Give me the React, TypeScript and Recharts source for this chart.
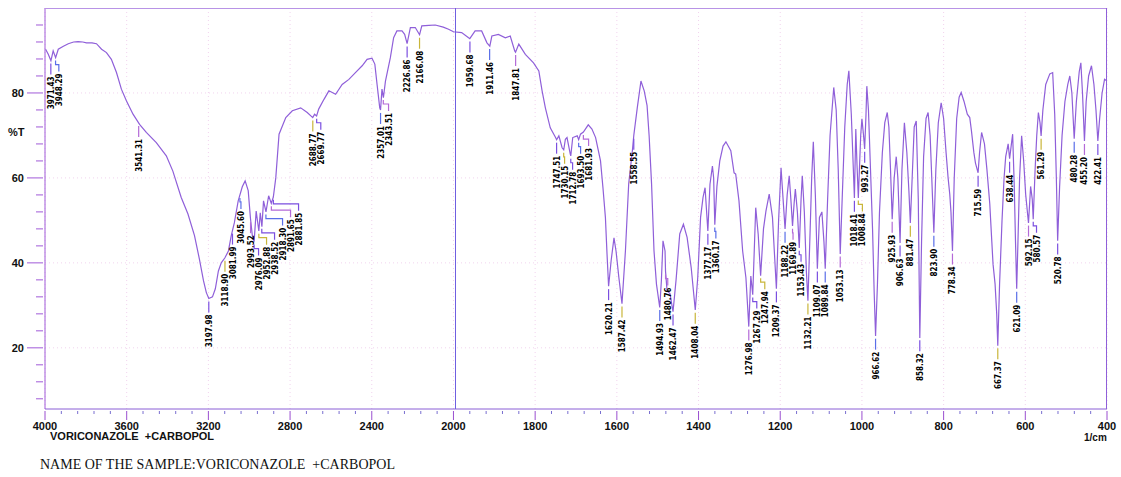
import React from 'react';
import { ComposedChart, Line, Scatter, XAxis, YAxis, CartesianGrid } from 'recharts';

// Spectrum segments: [wavenumber (1/cm), transmittance (%T)]
const segOH: [number, number][] = [
  [3997, 90.3], [3984, 89.1], [3971, 87.6], [3960, 89.9], [3948, 88.3], [3935, 90.3], [3910, 91.0], [3886, 91.6],
  [3860, 92.0], [3838, 92.1], [3815, 92.0], [3797, 91.8], [3770, 91.8], [3748, 91.6], [3723, 90.3], [3699, 89.5],
  [3675, 87.9], [3650, 84.8], [3626, 80.9], [3601, 78.1], [3569, 75.0], [3537, 72.6], [3504, 70.7], [3455, 68.3],
  [3406, 65.2], [3374, 61.6], [3333, 55.4], [3300, 51.5], [3268, 46.4], [3244, 40.9], [3224, 35.8], [3210, 33.0],
  [3198, 31.6], [3180, 32.0], [3166, 33.9], [3151, 38.1], [3137, 40.0], [3119, 41.2], [3102, 42.8], [3088, 46.4],
  [3073, 49.4], [3054, 54.6], [3034, 57.9], [3020, 59.3], [3005, 57.0], [2994, 50.5], [2985, 46.5], [2976, 45.0],
  [2966, 52.2], [2953, 47.5], [2946, 51.8], [2938, 48.5], [2930, 54.6], [2918, 52.0], [2905, 55.8], [2892, 54.0],
  [2882, 55.5], [2870, 60.0], [2854, 70.3], [2821, 74.2], [2789, 75.8], [2748, 76.5], [2716, 75.4], [2689, 74.2],
  [2680, 75.0], [2670, 74.6], [2660, 76.2], [2634, 78.5], [2610, 80.5], [2577, 79.7], [2545, 82.0], [2512, 83.2],
  [2480, 84.8], [2447, 86.4], [2423, 87.9], [2399, 88.2], [2385, 86.8], [2374, 82.0], [2361, 76.5], [2357, 76.0],
  [2350, 80.9], [2343, 78.9], [2333, 82.8], [2309, 88.3], [2293, 93.0], [2277, 94.6], [2252, 94.6], [2239, 93.8],
  [2227, 91.6], [2211, 95.4], [2187, 95.4], [2166, 93.7], [2155, 95.8], [2120, 95.9], [2089, 96.0], [2050, 95.5],
  [2024, 95.0], [2000, 94.4],
];
const segMid: [number, number][] = [
  [1980, 94.2], [1963, 93.0], [1960, 92.8], [1947, 94.6], [1931, 94.6], [1918, 91.8], [1911, 91.0], [1906, 93.4],
  [1890, 93.8], [1873, 93.0], [1861, 93.4], [1850, 89.9], [1848, 89.6], [1840, 91.5], [1824, 89.1], [1804, 87.1],
  [1791, 85.2], [1783, 80.5], [1775, 76.5], [1763, 71.8], [1750, 69.5], [1747.5, 69.0], [1742, 69.9], [1734, 67.1],
  [1730, 66.6], [1726, 69.1], [1722, 69.5], [1714, 65.6], [1712.8, 65.2], [1708, 69.5], [1697, 69.9], [1693.5, 69.0],
  [1689, 70.3], [1681.9, 70.8], [1670, 72.5], [1661, 71.5], [1652, 69.5], [1640, 64.0], [1634, 57.7], [1628, 50.7],
  [1624, 42.0], [1620.2, 34.5], [1614, 40.5], [1607, 45.9], [1602, 42.8], [1595, 36.5], [1587.4, 30.4], [1579, 42.8],
  [1571, 58.6], [1562, 66.4], [1558.5, 70.0], [1550, 76.5], [1541, 82.8], [1533, 80.5], [1526, 77.0], [1521, 70.0],
  [1515, 58.6], [1509, 42.8], [1503, 35.0], [1495, 29.5], [1491, 35.8], [1487, 45.2], [1482, 42.8], [1480.8, 38.0],
  [1477, 33.4], [1470, 32.8], [1462.5, 28.5], [1455, 36.0], [1446, 46.8], [1437, 49.1], [1428, 46.0], [1418, 38.9],
  [1408, 28.9], [1402, 36.5], [1395, 50.7], [1389, 55.4], [1384, 57.7], [1377.2, 47.5], [1372, 58.5], [1366, 62.8],
  [1363, 60.0], [1360.2, 49.0], [1355, 58.0], [1348, 64.0], [1340, 67.5], [1333, 68.5], [1321, 66.4], [1313, 61.2],
  [1309, 60.9], [1301, 54.6], [1292, 42.8], [1284, 36.5], [1280, 30.0], [1277, 25.0], [1272, 36.9], [1267.3, 32.5],
  [1260, 53.0], [1254, 46.8], [1248, 37.0], [1241, 48.0], [1235, 52.2], [1227, 56.2], [1219, 50.7], [1209.4, 33.9],
];
const segFinger: [number, number][] = [
  [1204, 50.0], [1198, 62.4], [1193, 55.0], [1188.2, 48.0], [1183, 56.0], [1178, 60.5], [1174, 55.0], [1169.9, 48.7],
  [1166, 54.0], [1163, 57.4], [1158, 52.0], [1153.4, 43.5], [1149, 55.0], [1146, 60.5], [1141, 52.0], [1136, 38.0],
  [1132.2, 31.1], [1127, 47.0], [1123, 60.0], [1119, 68.5], [1114, 56.0], [1109.1, 38.6], [1104, 50.7], [1098, 52.0],
  [1093, 45.0], [1089.8, 38.6], [1084, 55.0], [1078, 70.0], [1069, 81.3], [1063, 76.0], [1058, 62.0], [1053.1, 42.1],
  [1048, 56.0], [1042, 72.0], [1036, 82.0], [1032, 85.2], [1026, 75.0], [1018.4, 55.3], [1015, 71.5], [1012, 63.0],
  [1008.8, 55.3], [1003, 70.0], [1000, 73.9], [996, 70.0], [993.3, 66.8], [990, 75.0], [988, 81.6], [984, 76.0],
  [979, 62.0], [974, 48.0], [970, 33.0], [966.6, 22.8], [962, 35.0], [957, 52.0], [950, 66.0], [944, 73.0],
  [938, 75.4], [934, 72.0], [930, 62.0], [925.9, 50.3], [921, 60.0], [916, 65.0], [912, 60.0], [906.6, 44.7],
  [902, 62.0], [896, 73.0], [890, 66.0], [885, 57.0], [881.5, 49.4], [877, 60.0], [872, 72.0], [867, 73.4],
  [862, 55.0], [858.3, 22.3], [854, 45.0], [849, 65.0], [843, 74.0], [838, 75.4], [833, 70.0], [829, 60.0],
  [823.9, 47.1], [819, 62.0], [813, 73.0], [806, 77.7], [800, 74.0], [794, 66.0], [789, 60.0], [785, 56.2],
  [782, 52.0], [778.3, 42.8], [774, 60.0], [768, 74.0], [762, 79.0], [757, 80.1], [750, 78.0], [742, 75.0],
  [736, 74.2], [732, 71.2], [726, 66.0], [722, 63.5], [715.6, 61.2], [712, 66.0], [707, 70.7], [700, 68.0],
  [694, 62.0], [687, 53.9], [682, 45.0], [679, 39.7], [674, 35.0], [670, 28.0], [667.4, 20.5], [663, 35.0],
  [657, 50.0], [652, 60.0], [648, 65.0], [642, 68.0], [638.4, 64.5], [634, 68.0], [631, 70.3], [627, 58.0],
  [624, 45.0], [621.1, 33.9], [618, 45.0], [614, 60.0], [609, 69.9], [604, 64.0], [599, 56.0], [592.2, 49.4],
  [587, 58.0], [583, 55.0], [580.6, 50.3], [576, 62.0], [572, 70.0], [568, 75.4], [564, 73.0], [561.3, 69.9],
  [557, 76.0], [550, 82.0], [540, 84.5], [533, 84.8], [528, 75.0], [524, 60.0], [520.8, 45.2], [516, 58.0],
  [510, 70.0], [503, 78.0], [496, 82.0], [491, 84.0], [486, 80.0], [480.3, 69.2], [475, 78.0], [468, 85.0],
  [464, 87.1], [460, 80.0], [455.2, 68.7], [451, 78.0], [445, 84.0], [438, 86.4], [432, 82.0], [427, 76.0],
  [422.4, 68.7], [418, 74.0], [412, 80.0], [406, 83.2], [400, 82.8],
];

// Peak picks (wavenumber and printed label)
const peakWn = [
  3971.43, 3948.29, 3541.31, 3197.98, 3118.9, 3081.99, 3045.6, 2993.52, 2976.09, 2952.88, 2938.52, 2918.3, 2891.65, 2881.85,
  2688.77, 2669.77, 2357.01, 2343.51, 2226.86, 2166.08, 1959.68, 1911.46, 1847.81, 1747.51, 1730.15, 1712.78, 1693.5, 1681.93,
  1620.21, 1587.42, 1558.55, 1494.93, 1480.76, 1462.47, 1408.04, 1377.17, 1360.17, 1276.98, 1267.29, 1247.94, 1209.37,
  1188.22, 1169.89, 1153.43, 1132.21, 1109.07, 1089.84, 1053.13, 1018.41, 1008.84, 993.27, 966.62, 925.93, 906.63, 881.47,
  858.32, 823.9, 778.34, 715.59, 667.37, 638.44, 621.09, 592.15, 580.57, 561.29, 520.78, 480.28, 455.2, 422.41,
];
const peakText = [
  '3971.43', '3948.29', '3541.31', '3197.98', '3118.90', '3081.99', '3045.60', '2993.52', '2976.09', '2952.88', '2938.52',
  '2918.30', '2891.65', '2881.85', '2688.77', '2669.77', '2357.01', '2343.51', '2226.86', '2166.08', '1959.68', '1911.46',
  '1847.81', '1747.51', '1730.15', '1712.78', '1693.50', '1681.93', '1620.21', '1587.42', '1558.55', '1494.93', '1480.76',
  '1462.47', '1408.04', '1377.17', '1360.17', '1276.98', '1267.29', '1247.94', '1209.37', '1188.22', '1169.89', '1153.43',
  '1132.21', '1109.07', '1089.84', '1053.13', '1018.41', '1008.84', '993.27', '966.62', '925.93', '906.63', '881.47',
  '858.32', '823.90', '778.34', '715.59', '667.37', '638.44', '621.09', '592.15', '580.57', '561.29', '520.78', '480.28',
  '455.20', '422.41',
];

const xTickLabels = [4000, 3600, 3200, 2800, 2400, 2000, 1800, 1600, 1400, 1200, 1000, 800, 600, 400];
const yTickLabels = [20, 40, 60, 80];

const spectrum = [...segOH, ...segMid, ...segFinger];

// axis break: 4000-2000 compressed 2:1 relative to 2000-400
const U_MAX = 2600;
const Y_MIN = 5.6;
const Y_MAX = 100;
const toU = (wn: number) => (wn >= 2000 ? (4000 - wn) / 2 : 1000 + (2000 - wn));
const fromU = (v: number) => (v <= 1000 ? 4000 - 2 * v : 2000 - (v - 1000));

const chartData = spectrum.map(([w, t]) => ({ u: toU(w), t }));

const interpT = (wn: number) => {
  for (let i = 0; i < spectrum.length - 1; i++) {
    const [a, ta] = spectrum[i];
    const [b, tb] = spectrum[i + 1];
    if (wn <= a && wn >= b) {
      const f = (a - wn) / (a - b || 1);
      return ta + f * (tb - ta);
    }
  }
  return spectrum[spectrum.length - 1][1];
};

// chart geometry
const W = 1121;
const H = 477;
const MARGIN = { top: 8, right: 14, bottom: 38, left: 0 };
const Y_AXIS_W = 45;
const X_AXIS_H = 30;
const PLOT_W = W - MARGIN.left - MARGIN.right - Y_AXIS_W;
const PLOT_H = H - MARGIN.top - MARGIN.bottom - X_AXIS_H;
const PX_PER_U = PLOT_W / U_MAX;
const PX_PER_T = PLOT_H / (Y_MAX - Y_MIN);

// place peak labels: push a label right only if it collides with an earlier one that spans the same heights
const LABEL_GAP = 8;
const LABEL_LEN = 36;
const placed: { x: number; y0: number; y1: number }[] = [];
const peakData = peakWn.map((w, i) => {
  const u = toU(w);
  const t = interpT(w);
  const px = u * PX_PER_U;
  const py = (Y_MAX - t) * PX_PER_T;
  const y0 = py + 14;
  const y1 = y0 + LABEL_LEN;
  let x = px;
  placed.forEach((p) => {
    if (p.y1 > y0 && p.y0 < y1 && x < p.x + LABEL_GAP) x = p.x + LABEL_GAP;
  });
  placed.push({ x, y0, y1 });
  return { u, t, label: peakText[i], shiftPx: x - px };
});

const majorU = xTickLabels.map(toU);
const xTicks: number[] = [];
for (let v = 0; v <= U_MAX; v += 40) xTicks.push(v);
const yTicks: number[] = [];
for (let v = 8; v <= 96; v += 4) yTicks.push(v);

const PURPLE = '#8f5fd9';
const FONT = '"Liberation Sans", Arial, sans-serif';
const LEADER_COLORS = ['#7b4fe0', '#5a6ee8', '#b46ad8', '#7b4fe0', '#c9b63a'];

const XTick = (props: any) => {
  const { x, y, payload } = props;
  const v = payload.value;
  const major = majorU.some((m) => Math.abs(m - v) < 0.01);
  return (
    <g>
      <line x1={x} x2={x} y1={y} y2={y + (major ? 9 : 3)} stroke={major ? '#9a4fd0' : '#7a6fd0'} strokeWidth={1} />
      {major && (
        <text x={x} y={y + 19} textAnchor="middle" fontFamily={FONT} fontWeight="bold" fontSize={11} fill="#111">
          {Math.round(fromU(v))}
        </text>
      )}
    </g>
  );
};

const YTick = (props: any) => {
  const { x, y, payload } = props;
  const v = payload.value;
  const major = yTickLabels.includes(v);
  return (
    <g>
      <line x1={x - (major ? 16 : 7)} x2={x} y1={y} y2={y} stroke="#a05ad8" strokeWidth={1} />
      {major && (
        <text x={x - 19} y={y + 4} textAnchor="end" fontFamily={FONT} fontWeight="bold" fontSize={11} fill="#111">
          {v}
        </text>
      )}
    </g>
  );
};

const PeakMark = (props: any) => {
  const { cx, cy, payload, index } = props;
  if (cx == null || cy == null) return null;
  const color = LEADER_COLORS[(index ?? 0) % LEADER_COLORS.length];
  const lx = cx + (payload.shiftPx || 0);
  const pts =
    Math.abs(lx - cx) < 0.5
      ? `${cx},${cy + 3} ${cx},${cy + 14}`
      : `${cx},${cy + 3} ${cx},${cy + 7} ${lx},${cy + 7} ${lx},${cy + 14}`;
  return (
    <g>
      <polyline points={pts} fill="none" stroke={color} strokeWidth={1.2} />
      <text
        transform={`translate(${lx + 3},${cy + 16}) rotate(-90)`}
        textAnchor="end"
        fontFamily='"DejaVu Sans Condensed", "Liberation Sans Narrow", sans-serif'
        fontWeight="bold"
        fontSize={8}
        fill="#000"
      >
        {payload.label}
      </text>
    </g>
  );
};

export default function App() {
  return (
    <div style={{ position: 'absolute', left: 0, top: 0, width: W, height: H, background: '#fff' }}>
      <ComposedChart width={W} height={H} data={chartData} margin={MARGIN}>
        <CartesianGrid
          stroke="#f1d3ee"
          strokeDasharray="1 3"
          horizontalValues={yTickLabels}
          verticalValues={majorU}
        />
        <XAxis
          type="number"
          dataKey="u"
          domain={[0, U_MAX]}
          ticks={xTicks}
          interval={0}
          tick={<XTick />}
          tickLine={false}
          tickSize={0}
          height={X_AXIS_H}
          stroke="#8a5fd6"
          allowDataOverflow
        />
        <YAxis
          type="number"
          domain={[Y_MIN, Y_MAX]}
          ticks={yTicks}
          interval={0}
          tick={<YTick />}
          tickLine={false}
          tickSize={0}
          width={Y_AXIS_W}
          stroke="#a05ad8"
          allowDataOverflow
        />
        <Line
          type="linear"
          dataKey="t"
          stroke={PURPLE}
          strokeWidth={1.2}
          dot={false}
          isAnimationActive={false}
        />
        <Scatter data={peakData} dataKey="t" shape={<PeakMark />} isAnimationActive={false} />
      </ComposedChart>
      {/* frame lines */}
      <div style={{ position: 'absolute', left: 45, top: 8, width: 1062, height: 0, borderTop: '1px solid #b893e6' }} />
      <div style={{ position: 'absolute', left: 1106, top: 8, width: 0, height: 401, borderLeft: '1px solid #8f5fd9' }} />
      <div style={{ position: 'absolute', left: 455, top: 8, width: 0, height: 401, borderLeft: '1px solid #6f5fe0' }} />
      <div style={{ position: 'absolute', left: 8, top: 126, fontFamily: FONT, fontWeight: 'bold', fontSize: 11, color: '#111' }}>%T</div>
      <div style={{ position: 'absolute', left: 50, top: 430, lineHeight: '12px', fontFamily: FONT, fontWeight: 'bold', fontSize: 11, color: '#111', whiteSpace: 'pre' }}>
        VORICONAZOLE  +CARBOPOL
      </div>
      <div style={{ position: 'absolute', left: 1084, top: 432, lineHeight: '11px', fontFamily: FONT, fontWeight: 'bold', fontSize: 10, color: '#111' }}>1/cm</div>
      <div style={{ position: 'absolute', left: 40, top: 458, lineHeight: '14px', fontFamily: '"Liberation Serif", "Times New Roman", serif', fontSize: 14, color: '#111', whiteSpace: 'pre' }}>
        NAME OF THE SAMPLE:VORICONAZOLE  +CARBOPOL
      </div>
    </div>
  );
}
